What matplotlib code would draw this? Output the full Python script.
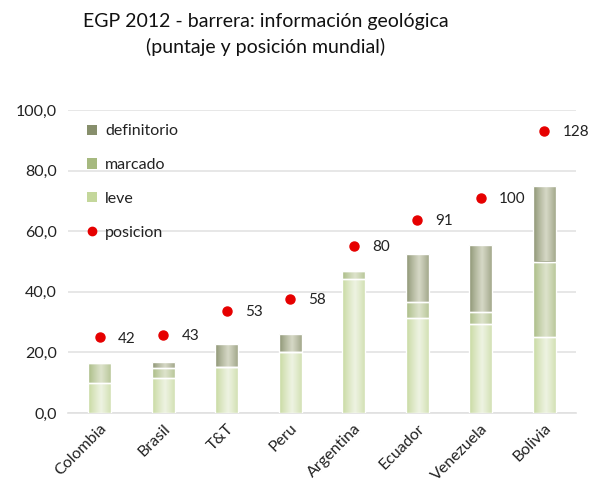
import numpy as np
import matplotlib
matplotlib.use("Agg")
import matplotlib.pyplot as plt
from matplotlib.patches import Patch
from matplotlib.lines import Line2D
from matplotlib.colors import to_rgb

categories = ["Colombia", "Brasil", "T&T", "Peru", "Argentina", "Ecuador", "Venezuela", "Bolivia"]
leve = [10.0, 11.5, 15.3, 20.2, 44.2, 31.5, 29.4, 25.0]
marcado = [6.5, 3.3, 0.0, 0.0, 2.7, 5.2, 3.8, 25.0]
definitorio = [0.0, 2.1, 7.5, 5.9, 0.0, 15.8, 22.1, 25.0]
posicion = [42, 43, 53, 58, 80, 91, 100, 128]
yticks = [0, 20, 40, 60, 80, 100]

plt.rcParams['font.family'] = ['Lato', 'DejaVu Sans']

fig = plt.figure(figsize=(5.89, 4.91), dpi=100)
ax = fig.add_axes([68/589, 1-413/491, (576-68)/589, (413-110)/491])

x = np.arange(len(categories))
width = 0.37

series = [
    ("leve", leve, "#c4d79b", "#eef3e2"),
    ("marcado", marcado, "#a6b97f", "#dde3cc"),
    ("definitorio", definitorio, "#878f6c", "#d6d8c6"),
]

def grad_img(edge, center):
    t = np.linspace(0, 1, 80)
    w = np.clip(1 - np.abs(t - 0.55) / 0.55, 0, 1) ** 0.8
    e = np.array(to_rgb(edge)); c = np.array(to_rgb(center))
    cols = e[None, :] + (c - e)[None, :] * w[:, None]
    return cols[None, :, :]

bottom = np.zeros(len(categories))
handles = {}
for name, vals, edge, center in series:
    vals = np.array(vals)
    bars = ax.bar(x, vals, width, bottom=bottom, color=edge, edgecolor="none", zorder=2)
    img = grad_img(edge, center)
    for rect, v in zip(bars, vals):
        if v <= 0:
            continue
        x0, y0 = rect.get_x(), rect.get_y()
        im = ax.imshow(img, extent=(x0, x0 + rect.get_width(), y0, y0 + rect.get_height()),
                       aspect="auto", zorder=3, interpolation="bilinear")
        im.set_clip_path(rect)
    ax.bar(x, vals, width, bottom=bottom, fill=False, edgecolor="white", linewidth=1.0, zorder=4)
    handles[name] = Patch(facecolor=edge, edgecolor="none")
    bottom += vals

ax.set_xlim(-0.5, len(categories) - 0.5)
ax.set_ylim(0, 100)
ax.set_yticks(yticks)
ax.set_yticklabels([f"{v:.1f}".replace(".", ",") for v in yticks], fontsize=11.5, color="#222222")
ax.set_xticks(x)
ax.set_xticklabels(categories, rotation=45, ha="right", rotation_mode="anchor", fontsize=11.5, color="#222222")
ax.tick_params(length=0, pad=8)
ax.tick_params(axis="x", pad=6)
ax.grid(axis="y", color="#e3e3e3", linewidth=1.2, zorder=0)
ax.set_axisbelow(True)
for s in ["top", "right", "left"]:
    ax.spines[s].set_visible(False)
ax.spines["bottom"].set_color("#e0e0e0")
ax.spines["bottom"].set_linewidth(1.2)

ax2 = ax.twinx()
ax2.set_ylim(10.43, 136.7)
ax2.plot(x, posicion, "o", color="#e60000", markersize=6.5, zorder=5)
for xi, p in zip(x, posicion):
    ax2.annotate(str(p), (xi, p), xytext=(13, -1), textcoords="offset points",
                 ha="left", va="center", fontsize=11, color="#222222")
ax2.set_yticks([])
for s in ax2.spines.values():
    s.set_visible(False)

leg_handles = [handles["definitorio"], handles["marcado"], handles["leve"],
               Line2D([], [], marker="o", color="#e60000", linestyle="none", markersize=6)]
leg = ax.legend(leg_handles, ["definitorio", "marcado", "leve", "posicion"],
                loc="upper left", bbox_to_anchor=(0.01, 1.0), frameon=False,
                fontsize=11.5, labelspacing=1.24, handlelength=0.6, handleheight=0.6,
                handletextpad=0.5)
for t in leg.get_texts():
    t.set_color("#222222")
leg.set_zorder(10)

fig.text(266/589, 1-22/491, "EGP 2012 - barrera: información geológica", ha="center", va="center",
         fontsize=14, color="#111111")
fig.text(266/589, 1-47/491, "(puntaje y posición mundial)", ha="center", va="center",
         fontsize=14, color="#111111")

fig.savefig("out.png", dpi=100)
